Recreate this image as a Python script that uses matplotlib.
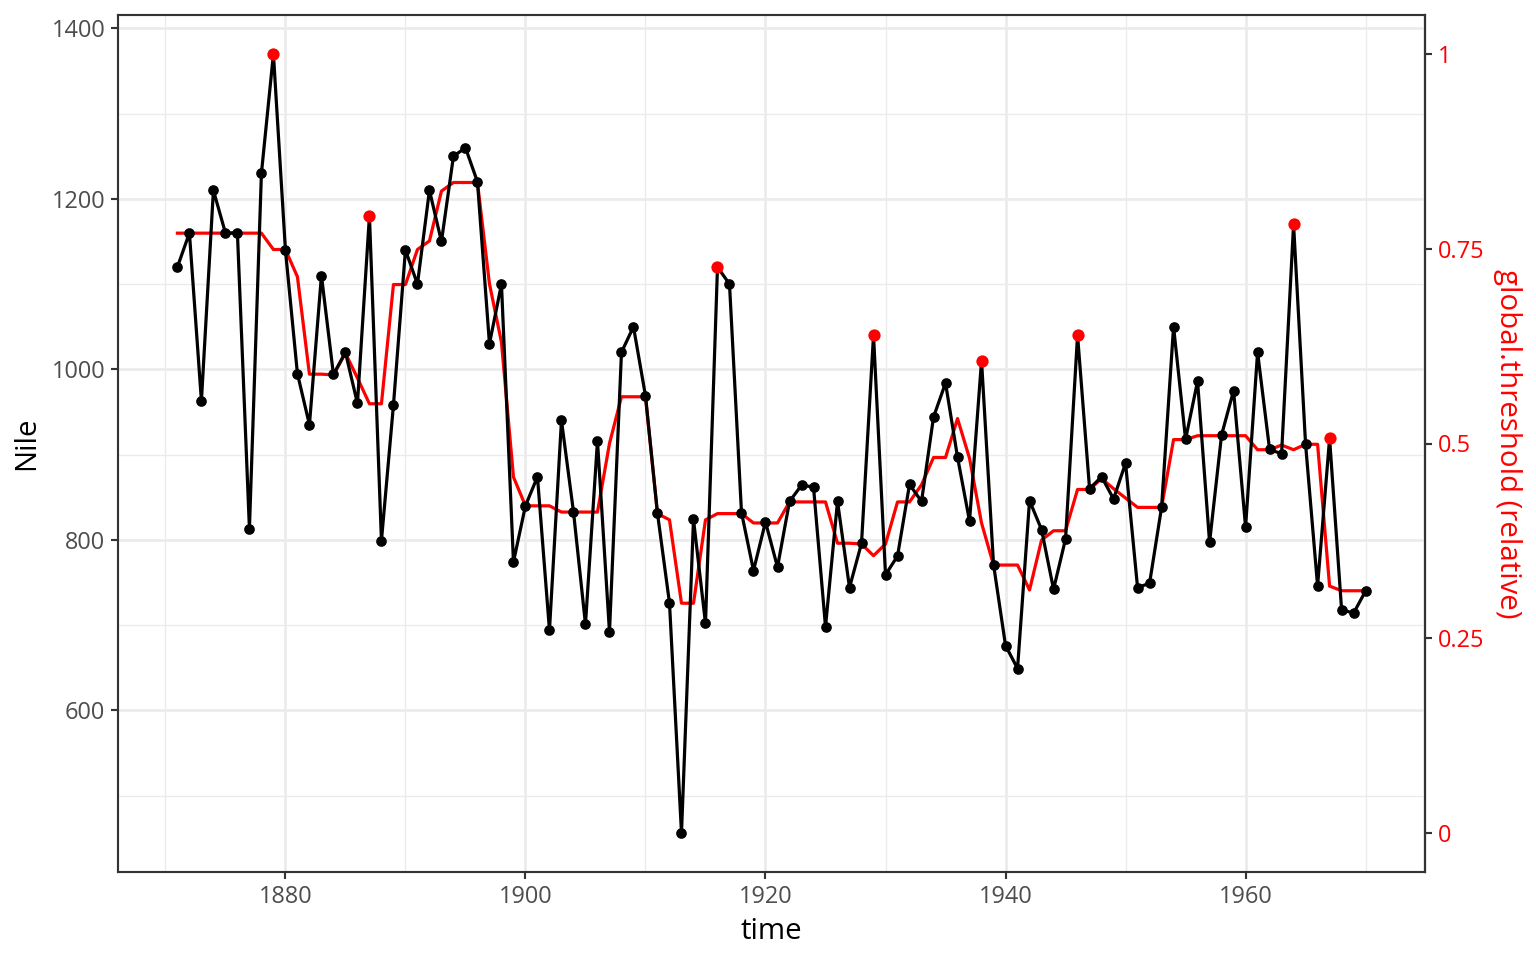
import numpy as np
import matplotlib.pyplot as plt

# Nile flow, 1871-1970
years = list(range(1871, 1971))
nile = [1120, 1160, 963, 1210, 1160, 1160, 813, 1230, 1370, 1140,
        995, 935, 1110, 994, 1020, 960, 1180, 799, 958, 1140,
        1100, 1210, 1150, 1250, 1260, 1220, 1030, 1100, 774, 840,
        874, 694, 940, 833, 701, 916, 692, 1020, 1050, 969,
        831, 726, 456, 824, 702, 1120, 1100, 832, 764, 821,
        768, 845, 864, 862, 698, 845, 744, 796, 1040, 759,
        781, 865, 845, 944, 984, 897, 822, 1010, 771, 676,
        649, 846, 812, 742, 801, 1040, 860, 874, 848, 890,
        744, 749, 838, 1050, 918, 986, 797, 923, 975, 815,
        1020, 906, 901, 1170, 912, 746, 919, 718, 714, 740]

# global threshold (relative)
threshold = [0.770, 0.770, 0.770, 0.770, 0.770, 0.770, 0.770, 0.770, 0.749, 0.749,
             0.714, 0.589, 0.589, 0.588, 0.616, 0.584, 0.551, 0.551, 0.704, 0.704,
             0.749, 0.760, 0.824, 0.835, 0.835, 0.835, 0.705, 0.630, 0.457, 0.420,
             0.420, 0.420, 0.412, 0.412, 0.412, 0.412, 0.500, 0.560, 0.560, 0.560,
             0.410, 0.402, 0.295, 0.295, 0.402, 0.410, 0.410, 0.410, 0.398, 0.398,
             0.398, 0.425, 0.425, 0.425, 0.425, 0.372, 0.372, 0.371, 0.356, 0.371,
             0.425, 0.425, 0.447, 0.482, 0.482, 0.532, 0.481, 0.398, 0.344, 0.344,
             0.344, 0.312, 0.376, 0.388, 0.388, 0.441, 0.441, 0.455, 0.442, 0.430,
             0.418, 0.418, 0.418, 0.505, 0.505, 0.510, 0.510, 0.510, 0.510, 0.510,
             0.492, 0.492, 0.498, 0.492, 0.499, 0.499, 0.317, 0.311, 0.311, 0.311]

outlier_years = [1879, 1887, 1916, 1929, 1938, 1946, 1964, 1967]

nmin, nmax = min(nile), max(nile)
span = nmax - nmin

def to_rel(v):
    return (v - nmin) / span

def from_rel(r):
    return nmin + r * span

plt.rcParams['font.family'] = ['Open Sans', 'DejaVu Sans']

fig = plt.figure(figsize=(8, 5), dpi=192)
ax = fig.add_axes([118/1536, 88/960, (1425-118)/1536, (872-15)/960])

thr_nile = [from_rel(r) for r in threshold]
ax.plot(years, thr_nile, color='red', lw=1.2, zorder=3)
ax.plot(years, nile, color='black', lw=1.2, zorder=4)
ax.plot(years, nile, 'o', color='black', ms=4.0, mec='none', zorder=5)
out_vals = [nile[years.index(y)] for y in outlier_years]
ax.plot(outlier_years, out_vals, 'o', color='red', ms=4.6, mec='none', zorder=6)

xr = years[-1] - years[0]
ax.set_xlim(years[0] - 0.05*xr, years[-1] + 0.05*xr)
ax.set_ylim(nmin - 0.05*span, nmax + 0.05*span)

ax.set_xticks([1880, 1900, 1920, 1940, 1960])
ax.set_xticks([1870, 1890, 1910, 1930, 1950, 1970], minor=True)
ax.set_yticks([600, 800, 1000, 1200, 1400])
ax.set_yticks([500, 700, 900, 1100, 1300], minor=True)
ax.grid(which='major', color='#ebebeb', lw=1.0)
ax.grid(which='minor', color='#ebebeb', lw=0.5)
ax.set_axisbelow(True)
ax.tick_params(which='major', length=2.75, width=0.8, color='#333333',
               labelcolor='#4d4d4d', labelsize=8.8, pad=2)
ax.tick_params(which='minor', length=0)
for s in ax.spines.values():
    s.set_color('#333333')
    s.set_linewidth(0.8)

ax.set_xlabel('time', fontsize=11, color='black', labelpad=3)
ax.set_ylabel('Nile', fontsize=11, color='black', labelpad=4)

sec = ax.secondary_yaxis('right', functions=(to_rel, from_rel))
sec.set_yticks([0, 0.25, 0.5, 0.75, 1])
sec.set_yticklabels(['0', '0.25', '0.5', '0.75', '1'])
sec.tick_params(length=2.75, width=0.8, color='#333333', labelcolor='red',
                labelsize=8.8, pad=2)
sec.spines['right'].set_color('#333333')
sec.spines['right'].set_linewidth(0.8)
sec.set_ylabel('global.threshold (relative)', fontsize=11, color='red',
               rotation=270, labelpad=14)

fig.savefig('out.png', dpi=192)
